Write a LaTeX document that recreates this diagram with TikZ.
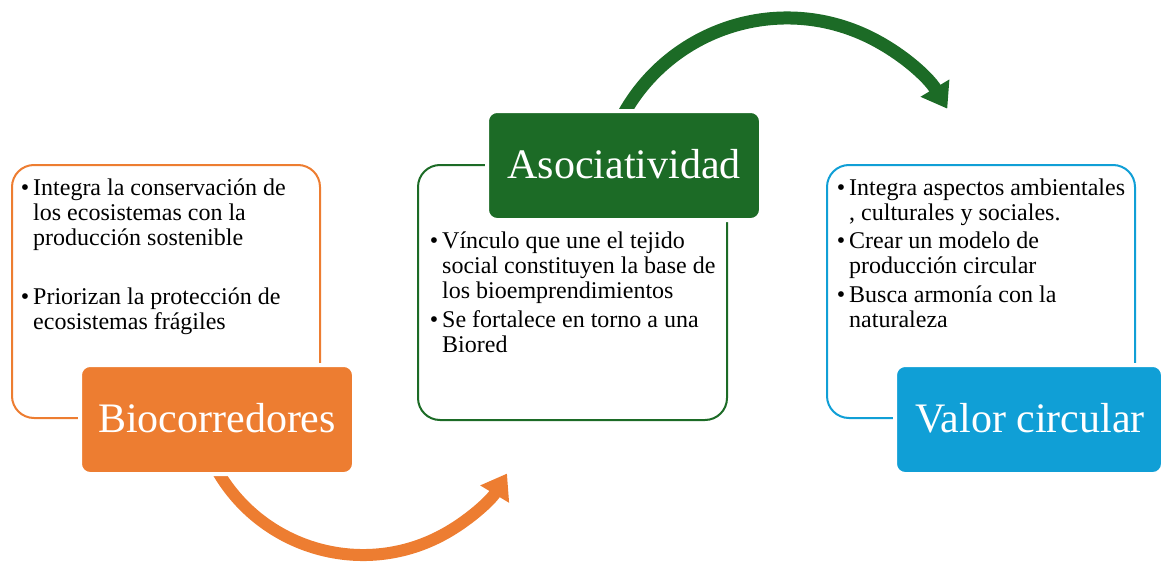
\documentclass[tikz,border=0pt]{standalone}
\usepackage{fontspec}
\setmainfont{Liberation Serif}
\usetikzlibrary{arrows.meta}
\definecolor{org}{RGB}{237,125,49}
\definecolor{grn}{RGB}{28,107,38}
\definecolor{blu}{RGB}{16,159,214}
\tikzset{
  outl/.style={rounded corners=22pt, line width=2pt},
  titlebox/.style={rounded corners=10pt, draw=white, line width=4pt},
  ttext/.style={font=\fontsize{42}{48}\selectfont, text=white, inner sep=0pt, anchor=base},
  body/.style={font=\fontsize{24}{25}\selectfont, inner sep=0pt, anchor=base west},
  bigarrow/.style={line width=12pt, -{Triangle[length=24pt,width=32pt]}},
}
\newcommand{\bl}{\llap{\textbullet\hspace{4pt}}}
\newcommand{\lns}[1]{\vtop{#1}}
\begin{document}
\begin{tikzpicture}[x=1pt,y=-1pt]
\useasboundingbox (0,0) rectangle (1162,562);
% curved arrows
\coordinate (oa) at (214.66,465.87);
\coordinate (ga) at (617.52,125.97);
\draw[bigarrow, org] (oa) arc[start angle=152, end angle=31, radius=168];
\draw[bigarrow, grn, line width=13pt] (ga) arc[start angle=205, end angle=329, radius=187];
% outline boxes
\draw[outl, draw=org] (12,165) rectangle (320,418);
\draw[outl, draw=grn] (418,165) rectangle (727,420);
\draw[outl, draw=blu] (827,165) rectangle (1135,418);
% title boxes
\filldraw[titlebox, fill=org] (80,365) rectangle (354,474);
\filldraw[titlebox, fill=grn] (487,111) rectangle (761,220);
\filldraw[titlebox, fill=blu] (895,365) rectangle (1163,474);
\node[ttext] (t1) at (217,432) {Biocorredores};
\node[ttext] (t2) at (624,178) {Asociatividad};
\node[ttext] (t3) at (1030,432) {Valor circular};
% body texts
\node[body] (o1) at (33,195) {\lns{\hbox{\bl Integra la conservación de}\hbox{los ecosistemas con la}\hbox{producción sostenible}}};
\node[body] (o2) at (33,304) {\lns{\hbox{\bl Priorizan la protección de}\hbox{ecosistemas frágiles}}};
\node[body] (g1) at (442,248) {\lns{\hbox{\bl Vínculo que une el tejido}\hbox{social constituyen la base de}\hbox{los bioemprendimientos}}};
\node[body] (g2) at (442,327) {\lns{\hbox{\bl Se fortalece en torno a una}\hbox{Biored}}};
\node[body] (b1) at (849,195) {\lns{\hbox{\bl Integra aspectos ambientales}\hbox{, culturales y sociales.}}};
\node[body] (b2) at (849,248) {\lns{\hbox{\bl Crear un modelo de}\hbox{producción circular}}};
\node[body] (b3) at (849,302) {\lns{\hbox{\bl Busca armonía con la}\hbox{naturaleza}}};
\end{tikzpicture}
\end{document}
